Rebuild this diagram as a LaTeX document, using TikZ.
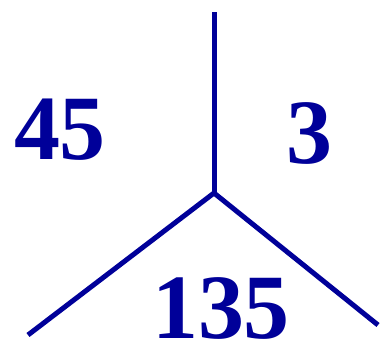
\documentclass[tikz,border=0pt]{standalone}
\usepackage{fontspec}
\setmainfont{Liberation Serif}
\definecolor{InkBlue}{HTML}{000099}

\begin{document}
\begin{tikzpicture}[x=1pt, y=-1pt, line width=5pt, every node/.style={InkBlue, font=\fontsize{92}{92}\selectfont\bfseries, anchor=base, inner sep=0pt}]
        \useasboundingbox (0,0) rectangle (381,350);

        % Junction and free ends
        \coordinate (hub) at (214,193);
        \coordinate (top) at (214,12);
        \coordinate (lowleft) at (28,335);
        \coordinate (lowright) at (378,325);

        % Branches
        \draw[InkBlue] (hub) -- (top);
        \draw[InkBlue] (hub) -- (lowleft);
        \draw[InkBlue] (hub) -- (lowright);

        % Labels
        \node (left) at (60,160) {45};
        \node (right) at (309,164) {3};
        \node (bottom) at (221,339) {135};
    \end{tikzpicture}
\end{document}
